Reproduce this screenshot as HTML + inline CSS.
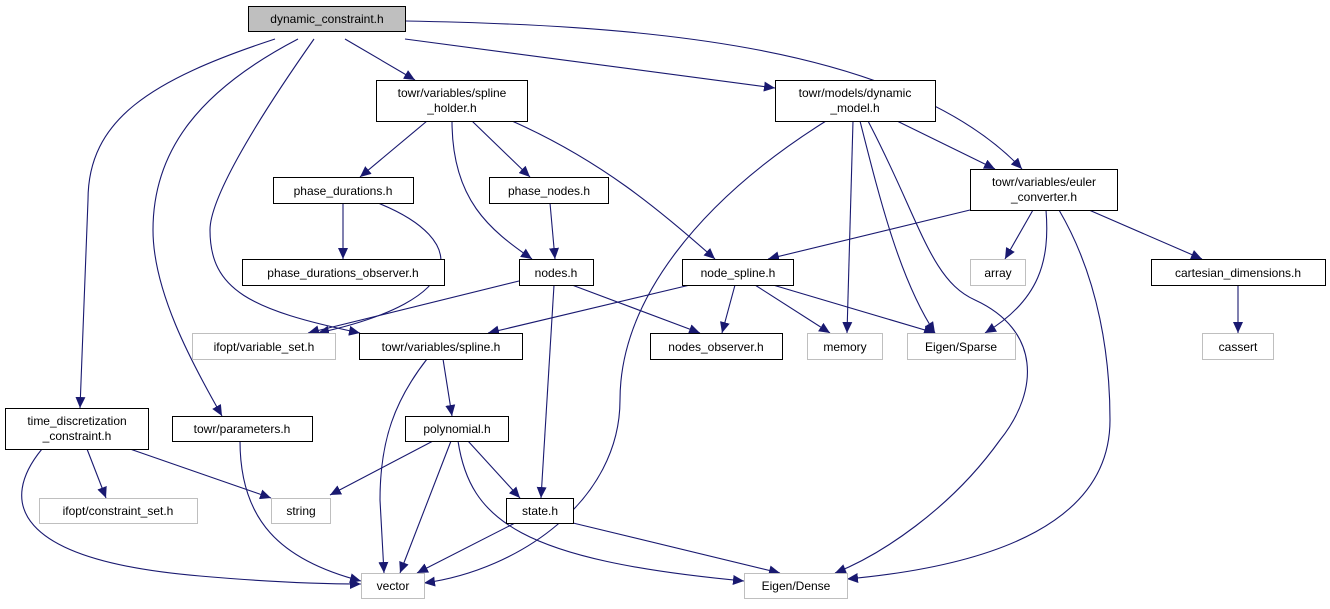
<!DOCTYPE html>
<html><head><meta charset="utf-8"><style>
body{margin:0;background:#fff;}
svg text{font-family:"Liberation Sans",sans-serif;font-size:12px;text-anchor:middle;fill:#000;}
</style></head><body>
<svg width="1330" height="604" viewBox="0 0 1330 604" xmlns="http://www.w3.org/2000/svg">
<defs><marker id="a" markerUnits="userSpaceOnUse" markerWidth="12" markerHeight="10" refX="11" refY="5" orient="auto"><path d="M0,0 L11,5 L0,10 z" fill="#191970"/></marker></defs>
<g fill="none" stroke="#191970" stroke-width="1.1" marker-end="url(#a)">
<path d="M345,39 L415,80"/>
<path d="M405,39 L775,88"/>
<path d="M406,21 C620,25 900,40 1022,169"/>
<path d="M275,39 C150,80 88,120 88,200 L80,408"/>
<path d="M298,39 C200,90 153,150 153,230 C153,290 190,360 222,416"/>
<path d="M314,39 C250,130 210,200 210,230 C210,290 250,310 360,333"/>
<path d="M427,121 L360,177"/>
<path d="M452,121 C452,200 490,230 532,259"/>
<path d="M472,121 L530,177"/>
<path d="M512,121 C600,160 660,210 715,259"/>
<path d="M343,203 L343,259"/>
<path d="M378,203 C470,240 470,300 318,333"/>
<path d="M550,203 L555,259"/>
<path d="M519,281 L308,333"/>
<path d="M572,285 L700,333"/>
<path d="M554,285 L541,498"/>
<path d="M690,285 L488,333"/>
<path d="M735,285 L722,333"/>
<path d="M755,285 L830,333"/>
<path d="M773,285 L935,333"/>
<path d="M826,121 C700,200 620,300 620,400 C620,500 520,570 424,583"/>
<path d="M853,121 L847,333"/>
<path d="M860,121 C880,200 900,280 935,333"/>
<path d="M868,121 C920,220 930,280 975,300 C1040,330 1040,390 1000,440 C950,510 880,555 835,573"/>
<path d="M897,121 L995,169"/>
<path d="M970,210 L768,259"/>
<path d="M1033,210 L1005,259"/>
<path d="M1046,210 C1050,260 1040,300 985,333"/>
<path d="M1059,210 C1100,280 1110,360 1110,420 C1110,520 1000,565 847,579"/>
<path d="M1089,210 L1202,259"/>
<path d="M1238,285 L1238,333"/>
<path d="M427,359 C395,400 380,440 380,500 L384,573"/>
<path d="M443,359 L452,416"/>
<path d="M87,449 L106,498"/>
<path d="M130,449 L271,498"/>
<path d="M42,449 C0,500 10,560 200,576 C280,583 330,584 361,584"/>
<path d="M240,441 C240,520 280,560 361,581"/>
<path d="M433,441 L330,495"/>
<path d="M451,441 L400,573"/>
<path d="M468,441 L520,498"/>
<path d="M458,441 C470,520 520,560 744,581"/>
<path d="M515,523 L417,573"/>
<path d="M573,523 L780,573"/>
</g>
<g stroke-width="1">
<rect x="248.5" y="6.5" width="157" height="25" fill="#bfbfbf" stroke="#000"/>
<rect x="376.5" y="80.5" width="151" height="41" fill="#fff" stroke="#000"/>
<rect x="775.5" y="80.5" width="160" height="41" fill="#fff" stroke="#000"/>
<rect x="970.5" y="169.5" width="147" height="41" fill="#fff" stroke="#000"/>
<rect x="273.5" y="177.5" width="140" height="26" fill="#fff" stroke="#000"/>
<rect x="489.5" y="177.5" width="119" height="26" fill="#fff" stroke="#000"/>
<rect x="242.5" y="259.5" width="202" height="26" fill="#fff" stroke="#000"/>
<rect x="519.5" y="259.5" width="74" height="26" fill="#fff" stroke="#000"/>
<rect x="682.5" y="259.5" width="111" height="26" fill="#fff" stroke="#000"/>
<rect x="970.5" y="259.5" width="55" height="26" fill="#fff" stroke="#bfbfbf"/>
<rect x="1151.5" y="259.5" width="174" height="26" fill="#fff" stroke="#000"/>
<rect x="192.5" y="333.5" width="143" height="26" fill="#fff" stroke="#bfbfbf"/>
<rect x="359.5" y="333.5" width="163" height="26" fill="#fff" stroke="#000"/>
<rect x="650.5" y="333.5" width="132" height="26" fill="#fff" stroke="#000"/>
<rect x="807.5" y="333.5" width="75" height="26" fill="#fff" stroke="#bfbfbf"/>
<rect x="907.5" y="333.5" width="108" height="26" fill="#fff" stroke="#bfbfbf"/>
<rect x="1202.5" y="333.5" width="71" height="26" fill="#fff" stroke="#bfbfbf"/>
<rect x="5.5" y="408.5" width="143" height="41" fill="#fff" stroke="#000"/>
<rect x="172.5" y="416.5" width="140" height="25" fill="#fff" stroke="#000"/>
<rect x="405.5" y="416.5" width="103" height="25" fill="#fff" stroke="#000"/>
<rect x="39.5" y="498.5" width="158" height="25" fill="#fff" stroke="#bfbfbf"/>
<rect x="271.5" y="498.5" width="59" height="25" fill="#fff" stroke="#bfbfbf"/>
<rect x="506.5" y="498.5" width="67" height="25" fill="#fff" stroke="#000"/>
<rect x="361.5" y="573.5" width="63" height="25" fill="#fff" stroke="#bfbfbf"/>
<rect x="744.5" y="573.5" width="103" height="25" fill="#fff" stroke="#bfbfbf"/>
</g>
<text x="327" y="23">dynamic_constraint.h</text>
<text x="452" y="97">towr/variables/spline</text><text x="452" y="112">_holder.h</text>
<text x="855" y="97">towr/models/dynamic</text><text x="855" y="112">_model.h</text>
<text x="1044" y="186">towr/variables/euler</text><text x="1044" y="201">_converter.h</text>
<text x="343" y="195">phase_durations.h</text>
<text x="549" y="195">phase_nodes.h</text>
<text x="343" y="277">phase_durations_observer.h</text>
<text x="556" y="277">nodes.h</text>
<text x="738" y="277">node_spline.h</text>
<text x="998" y="277">array</text>
<text x="1238" y="277">cartesian_dimensions.h</text>
<text x="264" y="351">ifopt/variable_set.h</text>
<text x="441" y="351">towr/variables/spline.h</text>
<text x="716" y="351">nodes_observer.h</text>
<text x="845" y="351">memory</text>
<text x="961" y="351">Eigen/Sparse</text>
<text x="1238" y="351">cassert</text>
<text x="77" y="425">time_discretization</text><text x="77" y="440">_constraint.h</text>
<text x="242" y="433">towr/parameters.h</text>
<text x="457" y="433">polynomial.h</text>
<text x="118" y="515">ifopt/constraint_set.h</text>
<text x="301" y="515">string</text>
<text x="540" y="515">state.h</text>
<text x="393" y="590">vector</text>
<text x="796" y="590">Eigen/Dense</text>
</svg>
</body></html>
